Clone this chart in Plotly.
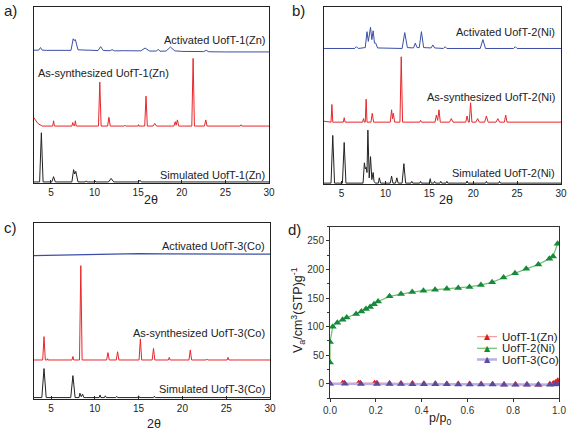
import plotly.graph_objects as go

# ---------------- DATA ----------------
# Panel a: UofT-1(Zn) PXRD (2theta, relative intensity)
a_sim_x = [3, 3.7, 3.9, 4.1, 5.1, 5.3, 5.5, 7.4, 7.6, 7.72, 7.85, 8.1, 8.95, 9.05, 9.15, 9.95, 10.05, 10.15, 11.6, 11.9, 12.2, 15.05, 15.2, 15.35, 30]
a_sim_y = [0, 0, 28, 0, 0, 3, 0, 0, 7, 4.5, 6, 0, 0, 0.6, 0, 0, 0.6, 0, 0, 2, 0, 0, 1, 0, 0]
a_syn_x = [3, 3.5, 4.0, 5.2, 5.3, 5.4, 7.4, 7.5, 7.6, 7.7, 7.8, 7.9, 10.45, 10.6, 10.75, 11.5, 11.65, 11.8, 13.4, 13.5, 13.6, 15.0, 15.05, 15.1, 15.75, 15.9, 16.05, 16.7, 16.9, 17.1, 19.1, 19.25, 19.35, 19.5, 19.65, 21.15, 21.3, 21.45, 22.6, 22.75, 22.9, 26.7, 26.8, 26.9, 30]
a_syn_y = [5, 1.5, 0, 0, 3, 0, 0, 2, 0.5, 0, 3, 0, 0, 25, 0, 0, 5, 0, 0, 0.5, 0, 0, 0.8, 0, 0, 17, 0, 0, 1.5, 0, 0, 2.5, 0.5, 3.5, 0, 0, 38.5, 0, 0, 3.5, 0, 0, 0.7, 0, 0]
a_act_x = [3, 3.6, 3.8, 4.0, 4.5, 7.3, 7.55, 7.65, 7.8, 8.1, 10.4, 10.7, 11.0, 11.8, 12.0, 12.3, 13.4, 15.3, 15.8, 16.3, 17.1, 17.3, 17.5, 18.2, 18.7, 19.2, 20, 22.5, 22.8, 23.1, 25, 30]
a_act_y = [1.0, 1.0, 2.5, 1.0, 0.9, 0.9, 7.5, 6.5, 7.0, 1.2, 0.8, 3.0, 0.8, 0.7, 1.3, 0.6, 0.7, 0.6, 2.2, 0.5, 0.5, 1.5, 0.4, 0.5, 2.8, 0.6, 0.3, 0.2, 0.9, 0.1, 0, 0]

# Panel b: UofT-2(Ni)
b_sim_x = [3, 3.8, 4.0, 4.2, 5.1, 5.3, 5.5, 7.45, 7.6, 7.7, 7.8, 7.9, 8.0, 8.15, 8.3, 8.45, 8.6, 8.7, 8.85, 9.2, 9.3, 9.45, 10.55, 10.7, 10.85, 11.15, 11.3, 11.45, 11.9, 12.1, 12.3, 12.9, 13.0, 13.1, 13.9, 14.0, 14.1, 15.0, 15.1, 15.2, 15.5, 15.6, 15.7, 16.2, 16.3, 16.4, 16.9, 17.0, 17.1, 19.2, 19.3, 19.4, 21.4, 21.5, 21.6, 22.9, 23.0, 23.1, 30]
b_sim_y = [0, 0, 27, 0, 0, 23, 0, 0, 11.5, 8, 9, 6, 30, 3, 15, 2, 6, 1, 0, 0, 3, 0, 0, 4, 0, 0, 3, 0, 0, 11, 0, 0, 1, 0, 0, 1, 0, 0, 2.5, 0, 0, 1, 0, 0, 1, 0, 0, 1, 0, 0, 1.2, 0, 0, 1, 0, 0, 1, 0, 0]
b_syn_x = [3, 3.8, 3.9, 4.0, 5.2, 5.3, 5.4, 7.4, 7.5, 7.6, 7.7, 7.8, 7.9, 8.35, 8.5, 8.65, 10.55, 10.7, 10.8, 10.9, 11.05, 11.65, 11.8, 11.95, 13.9, 14.0, 14.1, 15.65, 15.8, 15.95, 16.1, 16.25, 17.3, 17.5, 17.7, 19.15, 19.3, 19.45, 19.55, 19.7, 19.85, 20.3, 20.5, 20.7, 21.3, 21.5, 21.7, 22.6, 22.8, 23.0, 23.55, 23.7, 23.85, 30]
b_syn_y = [0.5, 0, 10, 0, 0, 2.5, 0, 0, 2, 0, 0, 13, 0, 0, 5, 0, 0, 7, 2, 5, 0, 0, 37, 0, 0, 1, 0, 0, 4, 1, 7, 0, 0, 2, 0, 0, 3.5, 0, 0, 11, 0, 0, 2, 0, 0, 3.5, 0, 0, 2, 0, 0, 4, 0, 0]
b_act_x = [3, 6.5, 6.7, 6.9, 7.7, 7.9, 8.05, 8.3, 8.45, 8.6, 8.75, 8.9, 9.1, 11.9, 12.2, 12.5, 13.2, 13.4, 13.6, 13.85, 14.1, 14.35, 15.2, 15.4, 15.6, 16.6, 16.8, 17.0, 20.8, 21.1, 21.4, 24.6, 24.8, 25.0, 30]
b_act_y = [0, 0, 1, 0, 0.5, 9.5, 4, 12, 5, 10, 3, 3, 0.3, 0, 9, 0.5, 0.3, 3, 0.5, 0.5, 9.5, 0.5, 0.3, 2, 0.3, 0, 1, 0, 0, 5, 0, 0, 1, 0, 0]

# Panel c: UofT-3(Co)
c_sim_x = [3, 3.95, 4.2, 4.45, 7.25, 7.5, 7.75, 8.2, 8.3, 8.45, 8.6, 8.75, 10.5, 10.6, 10.7, 11.1, 11.2, 11.3, 12.4, 12.5, 12.6, 14.9, 15.0, 15.1, 16.7, 16.8, 16.9, 30]
c_sim_y = [0, 0, 16.5, 0, 0, 12.5, 0, 0, 2.5, 0.5, 2, 0, 0, 1.5, 0, 0, 1, 0, 0, 0.7, 0, 0, 1, 0, 0, 0.8, 0, 0]
c_syn_x = [3, 4.05, 4.2, 4.35, 4.55, 4.6, 4.65, 7.4, 7.5, 7.6, 8.25, 8.4, 8.55, 11.35, 11.5, 11.65, 12.45, 12.6, 12.75, 15.05, 15.2, 15.35, 16.55, 16.7, 16.85, 18.4, 18.5, 18.6, 20.75, 20.9, 21.05, 22.7, 22.8, 22.9, 25.1, 25.2, 25.3, 30]
c_syn_y = [0, 0, 13.3, 0, 0, 0.7, 0, 0, 2, 0, 0, 53.7, 0, 0, 4.2, 0, 0, 4.7, 0, 0, 12, 0, 0, 6.6, 0, 0, 1.5, 0, 0, 5.7, 0, 0, 0.5, 0, 0, 1.5, 0, 0]
c_act_x = [3, 6, 9, 12, 15, 18, 21, 24, 27, 30]
c_act_y = [0, 0.3, 0.8, 1.1, 1.1, 1.0, 0.9, 0.8, 0.8, 0.8]

# Panel d: N2 isotherms
d_zn_x = [0.0, 0.055, 0.062, 0.125, 0.132, 0.195, 0.205, 0.26, 0.31, 0.36, 0.41, 0.46, 0.51, 0.56, 0.61, 0.66, 0.71, 0.76, 0.81, 0.86, 0.91, 0.96, 0.975, 0.985, 0.995]
d_zn_y = [0.5, 1.0, 1.0, 1.0, 1.0, 1.0, 1.0, 0.5, 0.3, 0.2, 0.0, -0.2, -0.3, -0.5, -0.6, -0.8, -1.0, -1.2, -1.3, -1.5, -1.6, -1.0, 0.5, 2.0, 5.0]
d_ni_x = [0.0, 0.0, 0.012, 0.032, 0.055, 0.073, 0.114, 0.137, 0.157, 0.175, 0.192, 0.21, 0.26, 0.31, 0.359, 0.408, 0.459, 0.51, 0.56, 0.609, 0.659, 0.708, 0.758, 0.808, 0.857, 0.91, 0.958, 0.974, 0.994]
d_ni_y = [37, 73, 100, 107, 112, 116, 122, 126.5, 131, 134.5, 139, 144, 153, 157, 160.5, 163, 164.5, 166.5, 167.5, 169.5, 173, 177.5, 186, 193.5, 201.5, 209, 219, 223, 245]
d_co_x = [0.0, 0.065, 0.135, 0.205, 0.26, 0.31, 0.36, 0.41, 0.46, 0.51, 0.56, 0.61, 0.66, 0.71, 0.76, 0.81, 0.86, 0.91, 0.96, 0.98, 0.995]
d_co_y = [0, -0.2, -0.4, -0.5, -0.6, -0.7, -0.8, -0.9, -1.0, -1.1, -1.2, -1.3, -1.4, -1.5, -1.6, -1.7, -1.8, -1.8, -1.6, -1.2, -0.8]

xrd_ticks = [5, 10, 15, 20, 25, 30]
iso_xticks = [0.0, 0.2, 0.4, 0.6, 0.8, 1.0]
iso_yticks = [0, 50, 100, 150, 200, 250]

# ---------------- LAYOUT HELPERS ----------------
W, H = 567, 430
FONT = "Liberation Sans, Arial, sans-serif"
def fx(p): return p / W
def fy(p): return 1 - p / H

BLACK = "#222222"
RED = "#e8262a"
BLUE = "#3b4fa6"

fig = go.Figure()

def add_xrd(xa, ya, xs, ys, offset, color, width=1.0):
    fig.add_trace(go.Scatter(x=xs, y=[v + offset for v in ys], mode="lines",
                             line=dict(color=color, width=width), xaxis=xa, yaxis=ya,
                             showlegend=False, hoverinfo="skip"))

# panel a
add_xrd("x", "y", a_sim_x, a_sim_y, 0.6, BLACK)
add_xrd("x", "y", a_syn_x, a_syn_y, 32.4, RED)
add_xrd("x", "y", a_act_x, a_act_y, 74.6, BLUE)
# panel b
add_xrd("x2", "y2", b_sim_x, b_sim_y, 0.5, BLACK)
add_xrd("x2", "y2", b_syn_x, b_syn_y, 35, RED)
add_xrd("x2", "y2", b_act_x, b_act_y, 76.7, BLUE)
# panel c
add_xrd("x3", "y3", c_sim_x, c_sim_y, 0.8, BLACK)
add_xrd("x3", "y3", c_syn_x, c_syn_y, 22.2, RED)
add_xrd("x3", "y3", c_act_x, c_act_y, 81.6, BLUE, 1.3)

# panel d
fig.add_trace(go.Scatter(x=d_zn_x, y=d_zn_y, mode="lines+markers", name="UofT-1(Zn)",
                         line=dict(color="#f28a8a", width=1),
                         marker=dict(symbol="triangle-up", size=7, color="#e41a1c"),
                         xaxis="x4", yaxis="y4", showlegend=False))
fig.add_trace(go.Scatter(x=d_ni_x, y=d_ni_y, mode="lines+markers", name="UofT-2(Ni)",
                         line=dict(color="#6fbf73", width=1.2),
                         marker=dict(symbol="triangle-up", size=7, color="#168a3a"),
                         xaxis="x4", yaxis="y4", showlegend=False))
fig.add_trace(go.Scatter(x=d_co_x, y=d_co_y, mode="lines+markers", name="UofT-3(Co)",
                         line=dict(color="#b9b0e0", width=2.5),
                         marker=dict(symbol="triangle-up", size=7, color="#5b4a9e"),
                         xaxis="x4", yaxis="y4", showlegend=False))

def xrd_xaxis(dom, anchor):
    return dict(domain=dom, anchor=anchor, range=[3, 30], tickvals=xrd_ticks,
                ticks="inside", ticklen=3, tickcolor=BLACK, showline=True, mirror=True,
                linecolor=BLACK, linewidth=1, showgrid=False, zeroline=False,
                automargin=False,
                tickfont=dict(size=10, color=BLACK, family=FONT))

def xrd_yaxis(dom, anchor):
    return dict(domain=dom, anchor=anchor, range=[0, 100], showticklabels=False,
                ticks="", showline=True, mirror=True, linecolor=BLACK, linewidth=1,
                showgrid=False, zeroline=False, automargin=False)

fig.update_layout(
    width=W, height=H, margin=dict(l=0, r=0, t=0, b=0, pad=0, autoexpand=False),
    paper_bgcolor="white", plot_bgcolor="white",
    font=dict(family=FONT, color=BLACK),
    showlegend=False,
    xaxis=xrd_xaxis([fx(33.5), fx(269)], "y"),
    yaxis=xrd_yaxis([fy(183), fy(7.3)], "x"),
    xaxis2=xrd_xaxis([fx(324), fx(561)], "y2"),
    yaxis2=xrd_yaxis([fy(184), fy(7.3)], "x2"),
    xaxis3=xrd_xaxis([fx(33.5), fx(270)], "y3"),
    yaxis3=xrd_yaxis([fy(399), fy(223.3)], "x3"),
    xaxis4=dict(domain=[fx(330), fx(559)], anchor="y4", range=[0, 1], tickvals=iso_xticks,
                tickformat=".1f", ticks="outside", ticklen=3, tickcolor="#333",
                showline=True, mirror=True, linecolor="#333", linewidth=1,
                showgrid=False, zeroline=False, automargin=False,
                tickfont=dict(size=10, color="#333", family=FONT)),
    yaxis4=dict(domain=[fy(398), fy(226.7)], anchor="x4", range=[-25, 275], tickvals=iso_yticks,
                ticks="outside", ticklen=3, tickcolor="#333",
                minor=dict(dtick=25, ticks="outside", ticklen=2, tickcolor="#333"),
                showline=True, mirror=True, linecolor="#333", linewidth=1,
                showgrid=False, zeroline=False, automargin=False,
                tickfont=dict(size=10, color="#333", family=FONT)),
)

ann = []
def label(text, x, y, xanchor, size=11, angle=0):
    ann.append(dict(text=text, x=fx(x), y=fy(y), xref="paper", yref="paper",
                    xanchor=xanchor, yanchor="middle", showarrow=False, textangle=angle,
                    font=dict(size=size, color=BLACK, family=FONT)))

# panel letters
label("a)", 2, 10, "left", 15)
label("b)", 290, 10, "left", 15)
label("c)", 2, 228, "left", 15)
label("d)", 286, 230, "left", 15)
# axis titles
label("2θ", 151, 200, "center", 12.5)
label("2θ", 445.5, 200, "center", 12.5)
label("2θ", 154, 424, "center", 12.5)
label("p/p<sub>0</sub>", 440, 419, "center", 12.5)
label("V<sub>a</sub>/cm<sup>3</sup>(STP)g<sup>-1</sup>", 298, 310, "center", 12.5, -90)
# XRD labels
label("Activated UofT-1(Zn)", 267, 40, "right")
label("As-synthesized UofT-1(Zn)", 36, 72.7, "left")
label("Simulated UofT-1(Zn)", 266.7, 175, "right")
label("Activated UofT-2(Ni)", 557, 32.3, "right")
label("As-synthesized UofT-2(Ni)", 557, 97.3, "right")
label("Simulated UofT-2(Ni)", 557, 173.3, "right")
label("Activated UofT-3(Co)", 266.7, 245.7, "right")
label("As-synthesized UofT-3(Co)", 266.7, 333.3, "right")
label("Simulated UofT-3(Co)", 266.7, 389, "right")

# manual legend for panel d
shapes = []
leg = [("UofT-1(Zn)", "#f28a8a", 1, "#e41a1c", 336.7),
       ("UofT-2(Ni)", "#6fbf73", 1.2, "#168a3a", 348.3),
       ("UofT-3(Co)", "#b9b0e0", 2.5, "#5b4a9e", 359.5)]
for name, lc, lw, mc, yy in leg:
    shapes.append(dict(type="line", xref="paper", yref="paper", x0=fx(477), x1=fx(497),
                       y0=fy(yy), y1=fy(yy), line=dict(color=lc, width=lw)))
    ann.append(dict(text="▲", x=fx(487), y=fy(yy), xref="paper", yref="paper",
                    xanchor="center", yanchor="middle", showarrow=False,
                    font=dict(size=8, color=mc, family="DejaVu Sans")))
    label(name, 500, yy, "left", 11.5)

fig.update_layout(annotations=ann, shapes=shapes)
fig.write_html("out.html", config={"displayModeBar": False},
               post_script="document.body.style.margin='0';document.body.style.overflow='hidden';")
